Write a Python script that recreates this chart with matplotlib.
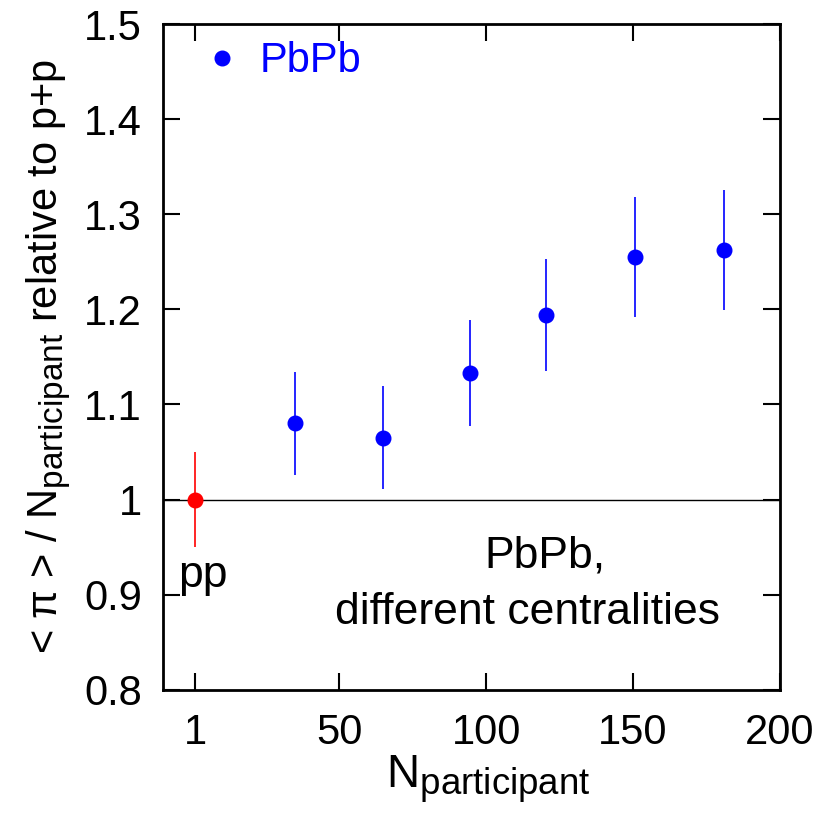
import matplotlib
import matplotlib.pyplot as plt
from matplotlib.lines import Line2D
import matplotlib._mathtext as mt

plt.rcParams['font.family'] = ['Liberation Sans', 'DejaVu Sans']
plt.rcParams['mathtext.fontset'] = 'custom'
plt.rcParams['mathtext.rm'] = 'Liberation Sans'
plt.rcParams['mathtext.it'] = 'Liberation Sans:italic'
mt.SHRINK_FACTOR = 0.8  # subscripts in the original are fairly large

# pp reference point
pp_x = [1]
pp_y = [1.0]
pp_err = [0.05]

# PbPb, different centralities
pb_x = [35, 65, 94.5, 120.5, 150.5, 181]
pb_y = [1.080, 1.065, 1.133, 1.194, 1.255, 1.262]
pb_err = [0.054, 0.054, 0.056, 0.059, 0.063, 0.063]

xticks = [1, 50, 100, 150, 200]
yticks = [0.8, 0.9, 1.0, 1.1, 1.2, 1.3, 1.4, 1.5]
ylabels = ['0.8', '0.9', '1', '1.1', '1.2', '1.3', '1.4', '1.5']

fig = plt.figure(figsize=(8.22, 8.30), dpi=100)
ax = fig.add_axes([0.198, 0.169, 0.751, 0.802])

ax.axhline(1.0, color='black', lw=1.0, zorder=1)
ax.errorbar(pp_x, pp_y, yerr=pp_err, fmt='o', color='red', ms=10.5, elinewidth=1.2, capsize=0, zorder=3)
ax.errorbar(pb_x, pb_y, yerr=pb_err, fmt='o', color='blue', ms=10.5, elinewidth=1.2, capsize=0, zorder=3)

ax.set_xlim(-10, 200)
ax.set_ylim(0.8, 1.5)
ax.set_xticks(xticks)
ax.set_xticklabels([str(t) for t in xticks])
ax.set_yticks(yticks)
ax.set_yticklabels(ylabels)
ax.tick_params(direction='in', length=12, width=1.5, labelsize=30, top=True, right=True)
ax.tick_params(axis='x', pad=17)
ax.tick_params(axis='y', pad=15)
for s in ax.spines.values():
    s.set_linewidth(2)

ax.text(3.5, 0.92, 'pp', fontsize=32, ha='center', va='center')
ax.text(120, 0.941, 'PbPb,', fontsize=32, ha='center', va='center')
ax.text(114, 0.881, 'different centralities', fontsize=32, ha='center', va='center')

ax.set_xlabel(r'N$_{\rm participant}$', fontsize=33)
ax.xaxis.set_label_coords(0.527, -0.096)
ax.set_ylabel(r'< $\mathrm{\pi}$ > / N$_{\rm participant}$ relative to p+p', fontsize=30, labelpad=8)

handle = Line2D([], [], marker='o', ls='none', color='blue', ms=10.5)
leg = ax.legend([handle], ['PbPb'], loc='center left', bbox_to_anchor=(0.0616, 0.944),
                frameon=False, fontsize=30, borderpad=0, borderaxespad=0,
                handlelength=1.0, handletextpad=0.41)
for t in leg.get_texts():
    t.set_color('blue')

fig.savefig('out.png', dpi=100)
